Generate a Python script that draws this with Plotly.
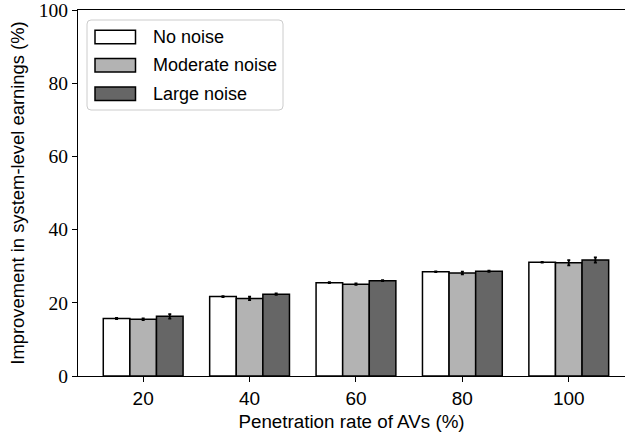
import plotly.graph_objects as go

# ---- data ----
categories = ["20", "40", "60", "80", "100"]
series_names = ["No noise", "Moderate noise", "Large noise"]
no_noise = [15.7, 21.7, 25.5, 28.5, 31.1]
moderate_noise = [15.5, 21.2, 25.1, 28.15, 30.95]
large_noise = [16.3, 22.35, 26.05, 28.6, 31.7]
no_noise_err = [0.15, 0.15, 0.15, 0.1, 0.1]
moderate_noise_err = [0.25, 0.45, 0.2, 0.35, 0.7]
large_noise_err = [0.6, 0.2, 0.15, 0.15, 0.7]
y_ticks = [0, 20, 40, 60, 80, 100]

colors = ["#ffffff", "#b3b3b3", "#666666"]
values = [no_noise, moderate_noise, large_noise]
errors = [no_noise_err, moderate_noise_err, large_noise_err]

SANS = "Liberation Sans"
SERIF = "Liberation Serif"

fig = go.Figure()
for name, vals, errs, col in zip(series_names, values, errors, colors):
    fig.add_trace(go.Bar(
        x=categories, y=vals, name=name,
        marker=dict(color=col, line=dict(color="black", width=1.5)),
        error_y=dict(type="data", array=errs, visible=True,
                     color="black", thickness=1.8, width=1.5),
        showlegend=False,
    ))

# plot geometry (pixels)
L, T, B = 78, 7, 59
W, H = 625, 435
plot_w = W - L
unit_px = 106.4
x0 = -0.6125
x1 = x0 + plot_w / unit_px

fig.update_layout(
    width=W, height=H,
    margin=dict(l=L, r=0, t=T, b=B, pad=0),
    paper_bgcolor="white", plot_bgcolor="white",
    barmode="group", bargap=0.25, bargroupgap=0,
    font=dict(family=SANS, size=18, color="black"),
)
fig.update_xaxes(
    type="category", range=[x0, x1],
    showline=True, linecolor="black", linewidth=1.3, mirror=True,
    ticks="outside", ticklen=5, tickwidth=1.2, tickcolor="black",
    tickfont=dict(family=SANS, size=19),
    showgrid=False, zeroline=False,
    title=dict(text="Penetration rate of AVs (%)", font=dict(family=SANS, size=18.8), standoff=6),
)
fig.update_yaxes(
    range=[0, 100], tickvals=y_ticks, ticktext=[str(v) for v in y_ticks],
    showline=True, linecolor="black", linewidth=1.3, mirror=False,
    ticks="outside", ticklen=5, tickwidth=1.2, tickcolor="black",
    tickfont=dict(family=SERIF, size=19.5),
    ticklabeloverflow="allow",
    showgrid=False, zeroline=False,
    title=dict(text="Improvement in system-level earnings (%)", font=dict(family=SANS, size=18.4), standoff=9),
)

# ---- manual legend (pixel offsets from top-left of plot area) ----
def px_x(x):
    return x - L

def px_y(y):
    return -(y - T)

bx0, bx1, by0, by1, r = 87, 283, 17, 107, 4
path = (
    f"M {px_x(bx0 + r)},{px_y(by0)} L {px_x(bx1 - r)},{px_y(by0)} "
    f"Q {px_x(bx1)},{px_y(by0)} {px_x(bx1)},{px_y(by0 + r)} "
    f"L {px_x(bx1)},{px_y(by1 - r)} Q {px_x(bx1)},{px_y(by1)} {px_x(bx1 - r)},{px_y(by1)} "
    f"L {px_x(bx0 + r)},{px_y(by1)} Q {px_x(bx0)},{px_y(by1)} {px_x(bx0)},{px_y(by1 - r)} "
    f"L {px_x(bx0)},{px_y(by0 + r)} Q {px_x(bx0)},{px_y(by0)} {px_x(bx0 + r)},{px_y(by0)} Z"
)
shapes = [dict(type="path", path=path, xref="paper", yref="paper",
               xsizemode="pixel", ysizemode="pixel", xanchor=0, yanchor=1,
               line=dict(color="#cccccc", width=1), fillcolor="rgba(255,255,255,0.8)")]
annotations = []
row_centers = [34, 62.3, 90.7]
for name, col, yc in zip(series_names, colors, row_centers):
    shapes.append(dict(type="rect", xref="paper", yref="paper",
                       xsizemode="pixel", ysizemode="pixel", xanchor=0, yanchor=1,
                       x0=px_x(95), x1=px_x(135.5), y0=px_y(yc - 6.7), y1=px_y(yc + 6.7),
                       line=dict(color="black", width=1.5), fillcolor=col))
    annotations.append(dict(text=name, xref="paper", yref="paper", x=0, y=1,
                            xshift=px_x(151), yshift=px_y(yc), xanchor="left", yanchor="middle",
                            showarrow=False, font=dict(family=SANS, size=18)))
fig.update_layout(shapes=shapes, annotations=annotations)

fig.write_html("out.html")
